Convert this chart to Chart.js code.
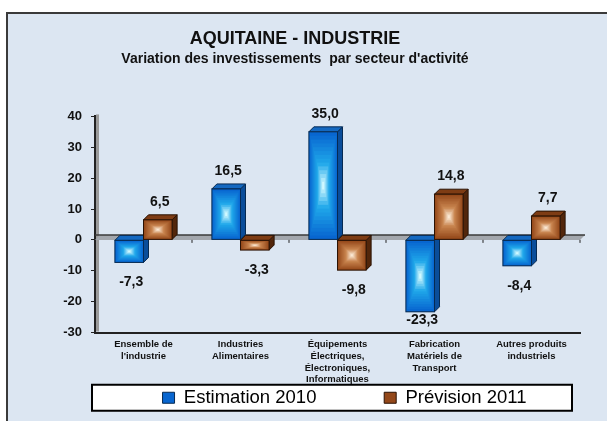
<!DOCTYPE html>
<html>
<head>
<meta charset="utf-8">
<script src="https://cdn.jsdelivr.net/npm/chart.js@4.4.1/dist/chart.umd.min.js"></script>
<style>
  html, body { margin: 0; padding: 0; background: #fff; }
  canvas { display: block; }
</style>
</head>
<body>
<canvas id="chart" width="607" height="421"></canvas>
<script>
// Data
const categories = [
    ['Ensemble de', "l'industrie"],
    ['Industries', 'Alimentaires'],
    ['Équipements', 'Électriques,', 'Électroniques,', 'Informatiques'],
    ['Fabrication', 'Matériels de', 'Transport'],
    ['Autres produits', 'industriels']
];
const estimation2010 = [-7.3, 16.5, 35.0, -23.3, -8.4];
const prevision2011 = [6.5, -3.3, -9.8, 14.8, 7.7];
const seriesNames = ['Estimation 2010', 'Prévision 2011'];
const yMin = -30;
const yMax = 40;
const yStep = 10;

const DEPTH = 5;
const FONT = 'Arial, "Liberation Sans", sans-serif';

// Colours for the two series (front edge, middle, highlight, top face, side face, outline)
const palettes = [
    { edge: '#0866d0', mid: '#1fa8ea', glow: '#d0f8ff', top: '#1468c0', side: '#0a4d9a', line: '#062a52' },
    { edge: '#94481a', mid: '#c8844e', glow: '#fbe8d4', top: '#7e3c14', side: '#52260b', line: '#2a1204' }
];

function mix(a, b, t) {
    const pa = [1, 3, 5].map(i => parseInt(a.substr(i, 2), 16));
    const pb = [1, 3, 5].map(i => parseInt(b.substr(i, 2), 16));
    return 'rgb(' + pa.map((v, i) => Math.round(v + (pb[i] - v) * t)).join(',') + ')';
}

// Draw a bar element as a small box: rectangular-gradient front, top and side faces
function drawBox(ctx, el, pal) {
    const p = el.getProps(['x', 'y', 'base', 'width'], true);
    const L = p.x - p.width / 2, R = p.x + p.width / 2;
    const top = Math.min(p.y, p.base), bot = Math.max(p.y, p.base);
    const w = R - L, h = bot - top;

    ctx.lineWidth = 1;
    ctx.strokeStyle = pal.line;

    // side face
    ctx.beginPath();
    ctx.moveTo(R, top);
    ctx.lineTo(R + DEPTH, top - DEPTH);
    ctx.lineTo(R + DEPTH, bot - DEPTH);
    ctx.lineTo(R, bot);
    ctx.closePath();
    ctx.fillStyle = pal.side;
    ctx.fill();
    ctx.stroke();

    // top face
    ctx.beginPath();
    ctx.moveTo(L, top);
    ctx.lineTo(L + DEPTH, top - DEPTH);
    ctx.lineTo(R + DEPTH, top - DEPTH);
    ctx.lineTo(R, top);
    ctx.closePath();
    ctx.fillStyle = pal.top;
    ctx.fill();
    ctx.stroke();

    // front face, rectangular gradient
    const steps = 14;
    for (let k = 0; k < steps; k++) {
        const s = 1 - k / steps;
        const t = k / (steps - 1);
        const col = t < 0.6 ? mix(pal.edge, pal.mid, t / 0.6) : mix(pal.mid, pal.glow, (t - 0.6) / 0.4);
        const rw = w * s, rh = h * s;
        ctx.fillStyle = col;
        ctx.fillRect(L + (w - rw) / 2, top + (h - rh) / 2, rw, rh);
    }
    ctx.strokeRect(L, top, w, h);
}

const boxPlugin = {
    id: 'boxes',
    afterLayout(chart) {
        // the original legend sits a little right of the plot centre
        chart.legend.left += 7;
        chart.legend.right += 7;
    },
    beforeDraw(chart) {
        const ctx = chart.ctx;
        ctx.save();
        ctx.fillStyle = '#ffffff';
        ctx.fillRect(0, 0, chart.width, chart.height);
        ctx.fillStyle = '#dce6f2';
        ctx.fillRect(7, 13, chart.width, chart.height);
        ctx.strokeStyle = '#3a3a3a';
        ctx.lineWidth = 2;
        ctx.strokeRect(7, 13, chart.width + 10, chart.height + 10);

        // white legend frame
        const lg = chart.legend;
        const area = chart.chartArea;
        if (lg && lg.legendHitBoxes && lg.legendHitBoxes.length) {
            const hb = lg.legendHitBoxes[0];
            const y = hb.top + hb.height / 2;
            ctx.fillStyle = '#ffffff';
            ctx.fillRect(area.left - 3, y - 13, area.right - area.left - 5, 26);
            ctx.strokeStyle = '#000000';
            ctx.lineWidth = 2;
            ctx.strokeRect(area.left - 3, y - 13, area.right - area.left - 5, 26);
        }
        ctx.restore();
    },
    beforeDatasetsDraw(chart) {
        const ctx = chart.ctx;
        const area = chart.chartArea;
        const y0 = chart.scales.y.getPixelForValue(0);
        const xs = chart.scales.x;
        ctx.save();
        // wall shadow next to the y axis
        ctx.fillStyle = '#9a9a9a';
        ctx.fillRect(area.left + 1, area.top - 2, 3, area.bottom - area.top + 1);
        // floor at zero
        ctx.beginPath();
        ctx.moveTo(area.left, y0);
        ctx.lineTo(area.left + DEPTH, y0 - DEPTH);
        ctx.lineTo(area.right + DEPTH, y0 - DEPTH);
        ctx.lineTo(area.right, y0);
        ctx.closePath();
        ctx.fillStyle = '#a3a7ad';
        ctx.fill();
        ctx.strokeStyle = '#3a3a3a';
        ctx.lineWidth = 1.5;
        ctx.beginPath();
        ctx.moveTo(area.left, y0 - DEPTH);
        ctx.lineTo(area.right + DEPTH, y0 - DEPTH);
        ctx.stroke();
        // category separators on the zero line
        ctx.lineWidth = 1;
        ctx.strokeStyle = '#222';
        for (let i = 0; i < categories.length; i++) {
            const xb = (xs.getPixelForValue(i) + xs.getPixelForValue(i + 1)) / 2;
            const xl = i === categories.length - 1 ? area.right : xb;
            ctx.beginPath();
            ctx.moveTo(xl, y0);
            ctx.lineTo(xl, y0 + 3);
            ctx.stroke();
        }
        ctx.restore();
    },
    afterDatasetsDraw(chart) {
        const ctx = chart.ctx;
        const area = chart.chartArea;
        ctx.save();
        // boxes, first series then second so the second covers the first one's side
        chart.data.datasets.forEach((ds, di) => {
            chart.getDatasetMeta(di).data.forEach(el => drawBox(ctx, el, palettes[di]));
        });
        // value labels
        ctx.font = 'bold 14px ' + FONT;
        ctx.fillStyle = '#111';
        ctx.textAlign = 'center';
        ctx.textBaseline = 'middle';
        chart.data.datasets.forEach((ds, di) => {
            chart.getDatasetMeta(di).data.forEach((el, i) => {
                const v = ds.data[i];
                let y = v >= 0 ? el.y - DEPTH - 13 : el.y + 20;
                y = Math.min(y, area.bottom - 12);
                ctx.fillText(v.toFixed(1).replace('.', ','), el.x + 2, y);
            });
        });
        ctx.restore();
    }
};

const ctx = document.getElementById('chart').getContext('2d');
new Chart(ctx, {
    type: 'bar',
    data: {
        labels: categories,
        datasets: [
            {
                label: seriesNames[0],
                data: estimation2010,
                backgroundColor: palettes[0].edge,
                borderColor: palettes[0].line,
                borderWidth: 1
            },
            {
                label: seriesNames[1],
                data: prevision2011,
                backgroundColor: palettes[1].edge,
                borderColor: palettes[1].line,
                borderWidth: 1
            }
        ]
    },
    options: {
        responsive: false,
        animation: false,
        layout: { padding: { left: 10, right: 27, top: 28, bottom: 4 } },
        datasets: {
            bar: { categoryPercentage: 0.59, barPercentage: 1.0 }
        },
        scales: {
            x: {
                afterFit(scale) { scale.height = 53; },
                grid: { drawOnChartArea: false, drawTicks: false },
                border: { color: '#222', width: 2 },
                ticks: {
                    padding: 6,
                    color: '#111',
                    maxRotation: 0,
                    autoSkip: false,
                    font: { family: FONT, size: 9.5, weight: 'bold', lineHeight: 1.24 }
                }
            },
            y: {
                min: yMin,
                max: yMax,
                afterFit(scale) { scale.width = 85; },
                grid: { drawOnChartArea: false, drawTicks: true, tickLength: 4, color: '#222' },
                border: { color: '#222', width: 2 },
                ticks: {
                    stepSize: yStep,
                    padding: 9,
                    color: '#111',
                    font: { family: FONT, size: 13, weight: 'bold' }
                }
            }
        },
        plugins: {
            title: {
                display: true,
                text: 'AQUITAINE - INDUSTRIE',
                color: '#111',
                font: { family: FONT, size: 18, weight: 'bold', lineHeight: 1.2 },
                padding: { top: 0, bottom: 1 }
            },
            subtitle: {
                display: true,
                text: "Variation des investissements  par secteur d'activité",
                color: '#111',
                font: { family: FONT, size: 14, weight: 'bold', lineHeight: 1.2 },
                padding: { top: 0, bottom: 49 }
            },
            legend: {
                position: 'bottom',
                fullSize: false,
                labels: {
                    boxWidth: 12,
                    boxHeight: 11,
                    padding: 3,
                    color: '#000',
                    font: { family: FONT, size: 18.5 },
                    sort: (a, b) => a.datasetIndex - b.datasetIndex,
                    // wider gap between the two entries, as in the original
                    generateLabels(chart) {
                        const items = Chart.defaults.plugins.legend.labels.generateLabels(chart);
                        items[0].text = items[0].text + '\u2002'.repeat(7);
                        return items;
                    }
                }
            },
            tooltip: { enabled: false }
        }
    },
    plugins: [boxPlugin]
});
</script>
</body>
</html>
